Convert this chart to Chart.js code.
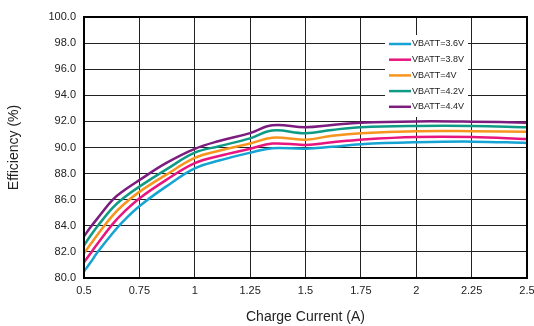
<!DOCTYPE html>
<html>
<head>
<meta charset="utf-8">
<script src="https://cdn.jsdelivr.net/npm/chart.js@4/dist/chart.umd.min.js"></script>
<style>
  html, body { margin: 0; padding: 0; background: #fff; }
  #wrap { width: 534px; height: 326px; }
</style>
</head>
<body>
<div id="wrap"><canvas id="chart_eff" width="534" height="326"></canvas></div>
<script>
// charge current (A)
var currents = [0.5, 0.53, 0.56, 0.63, 0.68, 0.75, 0.87, 1.0, 1.11, 1.25, 1.35, 1.5, 1.62, 1.75, 2.0, 2.25, 2.5];

// efficiency (%) per battery voltage
var eff36 = [80.5, 81.2, 81.95, 83.45, 84.4, 85.5, 87.0, 88.4, 89.0, 89.6, 89.95, 89.9, 90.05, 90.25, 90.4, 90.45, 90.35];
var eff38 = [81.2, 81.9, 82.6, 84.15, 85.05, 86.1, 87.5, 88.8, 89.35, 89.9, 90.3, 90.2, 90.4, 90.6, 90.8, 90.8, 90.65];
var eff40 = [81.9, 82.6, 83.3, 84.8, 85.65, 86.6, 87.9, 89.2, 89.75, 90.3, 90.75, 90.6, 90.9, 91.1, 91.25, 91.25, 91.2];
var eff42 = [82.5, 83.25, 83.95, 85.4, 86.15, 87.0, 88.3, 89.6, 90.1, 90.7, 91.3, 91.1, 91.35, 91.55, 91.65, 91.65, 91.55];
var eff44 = [83.2, 83.9, 84.55, 86.0, 86.7, 87.5, 88.8, 89.9, 90.5, 91.1, 91.7, 91.55, 91.72, 91.9, 92.0, 91.98, 91.9];

var seriesLabels = ["VBATT=3.6V", "VBATT=3.8V", "VBATT=4V", "VBATT=4.2V", "VBATT=4.4V"];
var seriesColors = ["#15a3d3", "#e8157f", "#f7941d", "#0f9a86", "#7c1c7e"];
var allSeries = [eff36, eff38, eff40, eff42, eff44];

var yTicks = [80, 82, 84, 86, 88, 90, 92, 94, 96, 98, 100];

function toPoints(values) {
    var pts = [];
    for (var i = 0; i < currents.length; ++i) {
        pts.push({x: currents[i], y: values[i]});
    }
    return pts;
}

var datasets = [];
for (var s = 0; s < allSeries.length; ++s) {
    datasets.push({
        label: seriesLabels[s],
        data: toPoints(allSeries[s]),
        borderColor: seriesColors[s],
        backgroundColor: seriesColors[s],
        borderWidth: 2.5,
        pointRadius: 0,
        tension: 0.4,
        fill: false
    });
}

// frame around the plot + the boxed legend inside it
var framePlugin = {
    id: 'frame',
    afterDatasetsDraw: function(chart) {
        var ctx = chart.ctx;
        var a = chart.chartArea;
        ctx.save();
        // legend box
        var bx = a.right - 142, by = a.top + 18, bw = 83, bh = 82;
        ctx.fillStyle = '#fff';
        ctx.fillRect(bx, by, bw, bh);
        ctx.font = '9px "Liberation Sans", Arial, sans-serif';
        ctx.textBaseline = 'middle';
        for (var i = 0; i < seriesLabels.length; ++i) {
            var ly = by + 9 + i * 15.7;
            ctx.strokeStyle = seriesColors[i];
            ctx.lineWidth = 2.5;
            ctx.beginPath();
            ctx.moveTo(bx + 4, ly);
            ctx.lineTo(bx + 26, ly);
            ctx.stroke();
            ctx.fillStyle = '#222';
            ctx.fillText(seriesLabels[i], bx + 27, ly);
        }
        ctx.strokeStyle = '#000';
        ctx.lineWidth = 2;
        ctx.strokeRect(a.left, a.top, a.right - a.left, a.bottom - a.top);
        ctx.restore();
    }
};

Chart.defaults.font.family = '"Liberation Sans", Arial, sans-serif';
Chart.defaults.color = '#222';

new Chart(document.getElementById('chart_eff'), {
    type: 'line',
    data: { datasets: datasets },
    options: {
        responsive: false,
        animation: false,
        layout: { padding: { left: 6, right: 7, top: 17, bottom: 0 } },
        plugins: {
            legend: { display: false },
            tooltip: { enabled: false }
        },
        scales: {
            x: {
                type: 'linear',
                min: 0.5,
                max: 2.5,
                ticks: {
                    stepSize: 0.25,
                    padding: 6,
                    font: { size: 11 },
                    callback: function(v) { return String(Math.round(v * 100) / 100); }
                },
                grid: { color: '#222', lineWidth: 1, drawTicks: false },
                border: { color: '#000', width: 2 },
                title: {
                    display: true,
                    text: 'Charge Current (A)',
                    font: { size: 14 },
                    padding: { top: 6, bottom: 0 }
                },
                afterFit: function(scale) {
                    scale.height = 48;
                    scale.paddingLeft = 0;
                    scale.paddingRight = 0;
                }
            },
            y: {
                min: 80,
                max: 100,
                afterBuildTicks: function(scale) {
                    scale.ticks = yTicks.map(function(v) { return {value: v}; });
                },
                ticks: {
                    padding: 8,
                    font: { size: 11 },
                    callback: function(v) { return Number(v).toFixed(1); }
                },
                grid: { color: '#222', lineWidth: 1, drawTicks: false },
                border: { color: '#000', width: 2 },
                title: {
                    display: true,
                    text: 'Efficiency (%)',
                    font: { size: 14 },
                    padding: { top: 0, bottom: 4 }
                },
                afterFit: function(scale) { scale.width = 78; }
            }
        }
    },
    plugins: [framePlugin]
});
</script>
</body>
</html>
